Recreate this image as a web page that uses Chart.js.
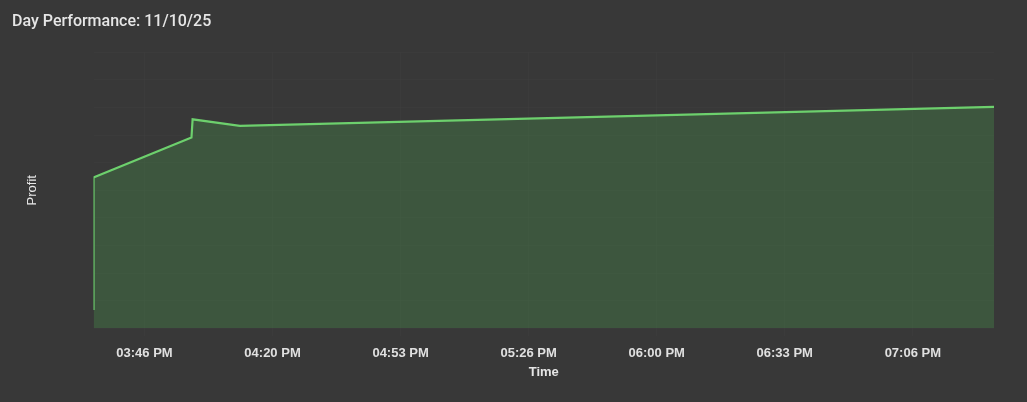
<!DOCTYPE html>
<html>
<head>
<meta charset="utf-8">
<script src="https://cdn.jsdelivr.net/npm/chart.js@4"></script>
<style>
  html, body { margin: 0; padding: 0; background: #383838; }
  #wrap { width: 1027px; height: 402px; }
</style>
</head>
<body>
<div id="wrap"><canvas id="myChart" width="1027" height="402"></canvas></div>
<script>
// time in minutes since midnight, profit in relative units
var times = [933.4, 933.4, 958.9, 959.2, 971.5, 1167.8];
var profits = [6.6, 54.6, 69.1, 75.7, 73.3, 80.2];

// x ticks fall every 2000 s
var tickTimes = [946.667, 980, 1013.333, 1046.667, 1080, 1113.333, 1146.667];

function fmtTime(m) {
  var h = Math.floor(m / 60);
  var mm = Math.floor(m - h * 60 + 1e-6);
  var ap = h >= 12 ? "PM" : "AM";
  var h12 = h % 12 === 0 ? 12 : h % 12;
  return (h12 < 10 ? "0" : "") + h12 + ":" + (mm < 10 ? "0" : "") + mm + " " + ap;
}

var points = times.map(function (t, i) {
  return { x: t, y: profits[i] };
});

new Chart(document.getElementById("myChart"), {
  type: "line",
  data: {
    datasets: [
      {
        data: points,
        borderColor: "#6dd06d",
        backgroundColor: "rgba(76,175,80,0.25)",
        borderWidth: 2.2,
        fill: "start",
        pointRadius: 0,
        tension: 0,
      },
    ],
  },
  options: {
    responsive: false,
    animation: false,
    layout: { padding: { left: 12, right: 33, top: 0, bottom: 0 } },
    plugins: {
      legend: { display: false },
      tooltip: { enabled: false },
      title: {
        display: true,
        text: "Day Performance: 11/10/25",
        align: "start",
        color: "#e6e6e6",
        font: { family: "Roboto", size: 16, weight: "500" },
        padding: { top: 12, bottom: 21 },
      },
    },
    scales: {
      x: {
        type: "linear",
        min: times[0],
        max: times[times.length - 1],
        afterBuildTicks: function (s) {
          s.ticks = tickTimes.map(function (v) { return { value: v }; });
        },
        afterFit: function (s) { s.height = 73.7; },
        grid: { color: "rgba(255,255,255,0.015)", tickLength: 8 },
        border: { display: false },
        ticks: {
          color: "#e0e0e0",
          font: { family: "Liberation Sans", size: 13, weight: "bold" },
          padding: 9,
          maxRotation: 0,
          callback: function (v) { return fmtTime(v); },
        },
        title: {
          display: true,
          text: "Time",
          color: "#e6e6e6",
          font: { family: "Liberation Sans", size: 13, weight: "bold" },
          padding: { top: 0, bottom: 22 },
        },
      },
      y: {
        min: 0,
        max: 100,
        afterFit: function (s) { s.width = 81.5; },
        grid: { color: "rgba(255,255,255,0.015)", drawTicks: false },
        border: { display: false },
        ticks: { display: false },
        title: {
          display: true,
          text: "Profit",
          color: "#e6e6e6",
          font: { family: "Liberation Sans", size: 13 },
          padding: { top: 13, bottom: 0 },
        },
      },
    },
  },
});
</script>
</body>
</html>
